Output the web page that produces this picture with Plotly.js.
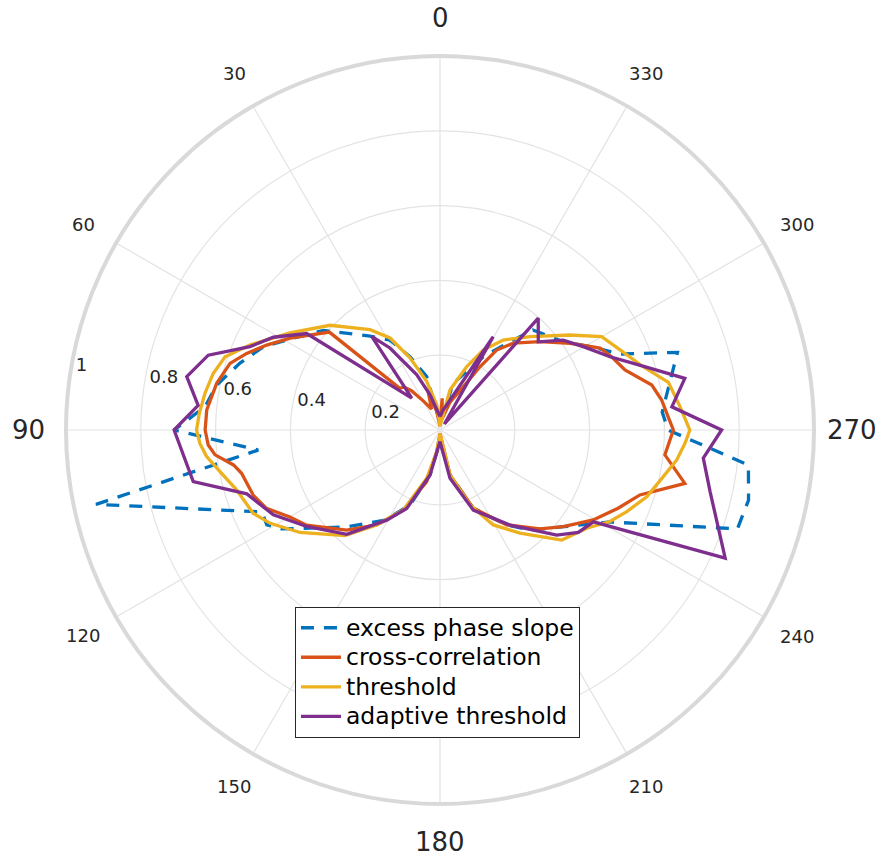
<!DOCTYPE html>
<html>
<head>
<meta charset="utf-8">
<script src="https://cdn.plot.ly/plotly-3.0.1.min.js"></script>
<style>
html,body{margin:0;padding:0;background:#fff;}
#chart{width:878px;height:862px;}
</style>
</head>
<body>
<div id="chart"></div>
<script>
// ---- data (theta in degrees, r normalised) ----
const seriesNames = ["excess phase slope", "cross-correlation", "threshold", "adaptive threshold"];

const thetaExcess = [0,14,22.3,29.1,36.7,49.5,58,64.8,71.5,78.6,84.3,88.5,90,96.3,102.2,114.7,118.7,122,136.1,148.6,158.2,167.5,180,
  192.5,203,215,222,232,241.6,251.6,257.2,263.5,270,274.6,288.1,292.9,299.1,305.6,317.1,322,329.4,344.1,360];
const rExcess = [0.02,0.147,0.212,0.275,0.313,0.41,0.463,0.522,0.564,0.609,0.631,0.687,0.711,0.489,0.941,0.524,0.528,0.499,0.36,0.282,0.216,0.123,0.03,
  0.123,0.227,0.31,0.36,0.42,0.517,0.838,0.846,0.83,0.61,0.596,0.668,0.522,0.459,0.405,0.365,0.295,0.228,0.13,0.02];

const thetaXcorr = [0,10,17,22,30,36,40,44,48.5,58.5,63.9,68.4,72.4,78.2,85.1,90,93.7,96.3,99.6,102.3,109.2,114.3,120.1,125.5,137,146.3,155.4,165.6,171.4,180,
  192.5,203.1,215.1,225.3,231.9,239.6,246.3,252,257.7,263.7,270,273.3,277.7,282,288,292.8,297.1,303.7,311.4,319.8,324.7,327.7,331.7,340,350,356,360];
const rXcorr = [0.01,0.05,0.11,0.06,0.09,0.13,0.15,0.155,0.395,0.47,0.516,0.556,0.589,0.61,0.626,0.628,0.621,0.605,0.56,0.543,0.529,0.509,0.464,0.438,0.366,0.305,0.235,0.143,0.059,0.01,
  0.123,0.227,0.31,0.376,0.419,0.475,0.52,0.562,0.67,0.605,0.624,0.611,0.598,0.579,0.52,0.5,0.481,0.418,0.357,0.304,0.262,0.2,0.131,0.08,0.03,0.085,0.02];

const thetaThresh = [0,7.4,15.3,22.6,28.5,34.9,46.4,57.1,65.9,71.2,76,81.1,86,90,93.2,96.5,100.2,106.4,114,118.8,126.2,138,146.3,155.4,164.6,171.4,180,
  192.5,201.8,209.3,217.8,227.9,236.2,241.7,246.4,252.1,258.2,262.8,266.9,270,275.5,281.8,287.3,294,300,306.2,316,324.9,331.6,337.1,346,360];
const rThresh = [0.01,0.068,0.135,0.209,0.28,0.327,0.406,0.478,0.557,0.607,0.625,0.636,0.645,0.651,0.643,0.628,0.602,0.567,0.547,0.518,0.464,0.38,0.305,0.235,0.134,0.059,0.01,
  0.123,0.216,0.291,0.349,0.439,0.472,0.516,0.545,0.581,0.61,0.638,0.656,0.668,0.645,0.624,0.569,0.527,0.499,0.43,0.347,0.294,0.243,0.184,0.11,0.01];

const thetaAdapt = [0,15.8,22.8,31.4,36.1,41.5,54.1,60.9,66.3,72.1,78.1,84.2,90,101.8,108.3,117,125.9,138.2,149.4,157,167.5,180,
  191.7,202.6,216.4,228,233.5,239.1,245.8,257.1,263.9,270,275.7,281.9,289,293.3,300.2,306.1,311.9,318.7,324,330.3,351,360];
const rAdapt = [0.036,0.098,0.16,0.257,0.31,0.114,0.44,0.51,0.555,0.651,0.692,0.65,0.711,0.674,0.544,0.5,0.44,0.374,0.28,0.228,0.123,0.031,
  0.132,0.232,0.316,0.42,0.46,0.478,0.836,0.741,0.708,0.753,0.623,0.669,0.547,0.495,0.443,0.408,0.353,0.398,0.02,0.287,0.054,0.036];

const angTicks = [0,30,60,90,120,150,180,210,240,270,300,330];
const angTickText = ["0","30","60","90","120","150","180","210","240","270","300","330"];
const majorTicks = [0,90,180,270];
const radTicks = [0.2,0.4,0.6,0.8,1];
const radTickText = ["0.2","0.4","0.6","0.8","1"];

// ---- styling ----
const colors = ["#0072BD","#D95319","#EDB120","#7E2F8E"];
const FONT = "DejaVu Sans, Liberation Sans, sans-serif";
const PLOT_SIDE = 748;          // square plot area in px
const LABEL_RADIUS_PX = 412;    // angular tick labels centred at this radius
const RADIAL_AXIS_ANGLE = 171.0;

const thetas = [thetaExcess, thetaXcorr, thetaThresh, thetaAdapt];
const rs = [rExcess, rXcorr, rThresh, rAdapt];

const traces = seriesNames.map((name, i) => ({
  type: "scatterpolar",
  mode: "lines",
  name: '<span style="font-size:23.5px">' + name + '</span>',
  theta: thetas[i],
  r: rs[i],
  line: {color: colors[i], width: 3.3, dash: i === 0 ? "13px,10px" : "solid"},
  hoverinfo: "skip"
}));

// angular tick labels, centred on a circle just outside the axis (as in the reference)
const f = LABEL_RADIUS_PX / PLOT_SIDE;
const annotations = angTicks.map((t, i) => ({
  xref: "paper", yref: "paper",
  x: 0.5 - f * Math.sin(t * Math.PI / 180),
  y: 0.5 + f * Math.cos(t * Math.PI / 180),
  xanchor: "center", yanchor: "middle",
  text: angTickText[i],
  showarrow: false,
  font: {family: FONT, size: majorTicks.includes(t) ? 26 : 18, color: "#262626"}
}));

const layout = {
  width: 878,
  height: 862,
  margin: {l: 66, r: 64, t: 56, b: 58, pad: 0},
  paper_bgcolor: "#fff",
  font: {family: FONT, color: "#262626", size: 18},
  showlegend: true,
  annotations: annotations,
  legend: {
    x: 0.3061, y: 0.2634, xanchor: "left", yanchor: "top",
    bgcolor: "#fff", bordercolor: "#262626", borderwidth: 1,
    font: {family: FONT, size: 20.4, color: "#000"},
    itemwidth: 40,
    tracegroupgap: 0
  },
  polar: {
    domain: {x: [0, 1], y: [0, 1]},
    bgcolor: "#fff",
    angularaxis: {
      rotation: 90,
      direction: "counterclockwise",
      tickmode: "array",
      tickvals: angTicks,
      showticklabels: false,
      ticks: "",
      showline: true,
      linecolor: "#d9d9d9",
      linewidth: 4,
      showgrid: true,
      gridcolor: "#e3e3e3",
      gridwidth: 1.2
    },
    radialaxis: {
      range: [0, 1],
      angle: RADIAL_AXIS_ANGLE,
      tickmode: "array",
      tickvals: radTicks,
      ticktext: radTickText.map(s => "\u2009" + s),
      tickfont: {family: FONT, size: 18, color: "#262626"},
      ticks: "",
      showline: false,
      showgrid: true,
      gridcolor: "#e3e3e3",
      gridwidth: 1.2,
      tickangle: RADIAL_AXIS_ANGLE
    }
  }
};

Plotly.newPlot("chart", traces, layout, {displayModeBar: false, staticPlot: true});
</script>
</body>
</html>
